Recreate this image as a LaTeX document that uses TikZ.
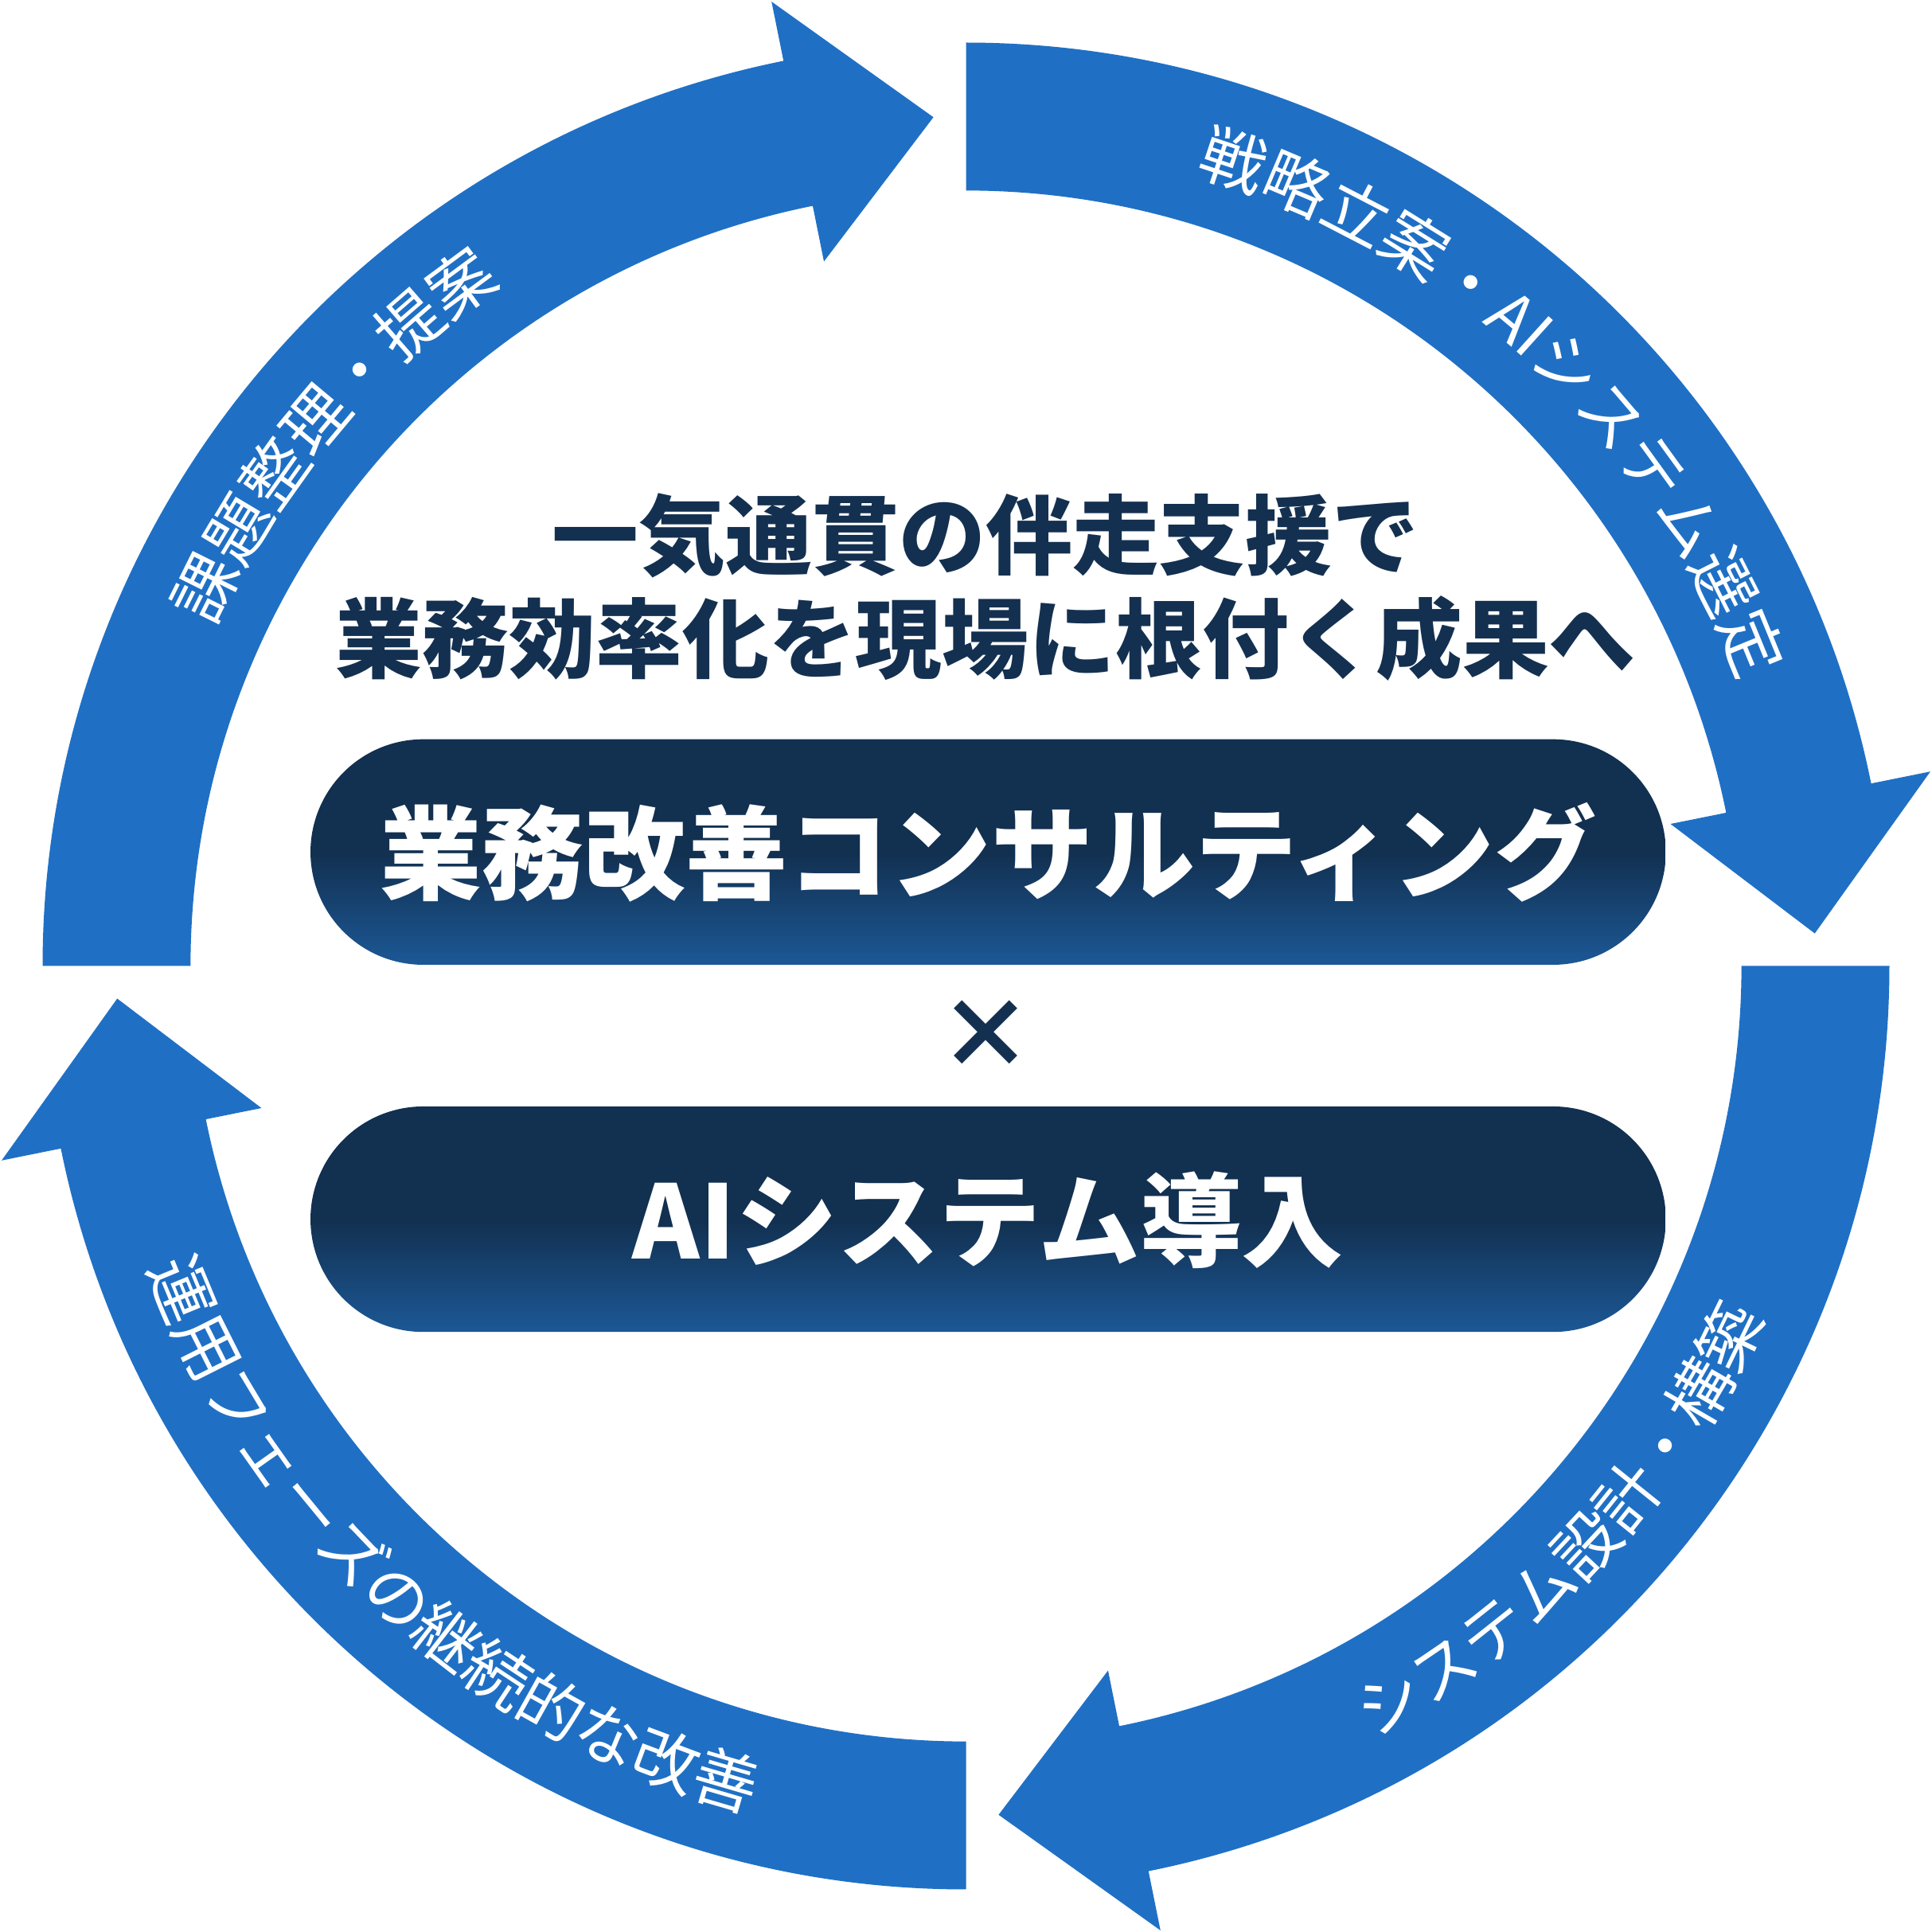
\documentclass[tikz,border=0pt]{standalone}
\usepackage{fontspec}
\newfontfamily\cjk{Noto Sans CJK JP}
\usetikzlibrary{decorations.text}
\definecolor{arrowblue}{RGB}{31,112,197}
\definecolor{navy}{RGB}{20,48,80}
\definecolor{pilldark}{RGB}{18,48,80}
\definecolor{pilllight}{RGB}{28,88,150}
\newcommand\arcfont{\cjk\fontsize{15}{15}\selectfont\color{white}}
\newcommand\cyclearrow[1]{%
 \fill[arrowblue] (#1:7.49cm) arc[start angle=#1, end angle=#1-78.6, radius=7.49cm]
  -- (#1-78.6:7.98cm) -- (#1-87.8:6.89cm) -- (#1-78.6:5.83cm) -- (#1-78.6:6.29cm)
  arc[start angle=#1-78.6, end angle=#1, radius=6.29cm] -- cycle;}
\begin{document}
\begin{tikzpicture}[x=0.01cm,y=0.01cm,
  pill/.style={rounded corners=0.915cm, shading=axis, top color=pilldark, bottom color=pilllight, middle color=pilldark},
  head/.style={font=\cjk\bfseries\fontsize{20}{24}\selectfont, text=navy},
  pilltext/.style={font=\cjk\bfseries\fontsize{23.5}{28}\selectfont, text=white}]
\useasboundingbox (0,0) rectangle (1568,1568);
\fill[white] (0,0) rectangle (1568,1568);
\begin{scope}[shift={(784,784)}]
 \cyclearrow{180}
 \cyclearrow{90}
 \cyclearrow{0}
 \cyclearrow{-90}
 \path[decorate,decoration={text along path,text align=center,text={|\arcfont|課題整理・提案}}]
   (200:6.69cm) arc[start angle=200,end angle=80,radius=6.69cm];
 \path[decorate,decoration={text along path,text align=center,text={|\arcfont|戦略立案・AIシステム選定}}]
   (107:6.69cm) arc[start angle=107,end angle=-13,radius=6.69cm];
 \path[decorate,decoration={text along path,text align=center,text={|\arcfont|システム設計・構築}}]
   (-103:7.08cm) arc[start angle=-103,end angle=17,radius=7.08cm];
 \path[decorate,decoration={text along path,text align=center,text={|\arcfont|運用フェーズの継続的な改善}}]
   (168:7.08cm) arc[start angle=168,end angle=288,radius=7.08cm];
\end{scope}
\node[head] (h1) at (800,1133) {一気通貫の伴走支援で};
\node[head] (h2) at (800,1050) {業務効率化を現場に根付く成果へ};
\shade[pill] (252,785) rectangle (1352,968);
\node[pilltext] (p1) at (802,876) {業務改善コンサルティング};
\node[font=\cjk\bfseries\fontsize{22}{26}\selectfont, text=navy] (x) at (800,728) {×};
\shade[pill] (252,487) rectangle (1352,670);
\node[pilltext] (p2) at (802,578) {AIシステム導入};
\end{tikzpicture}
\end{document}
